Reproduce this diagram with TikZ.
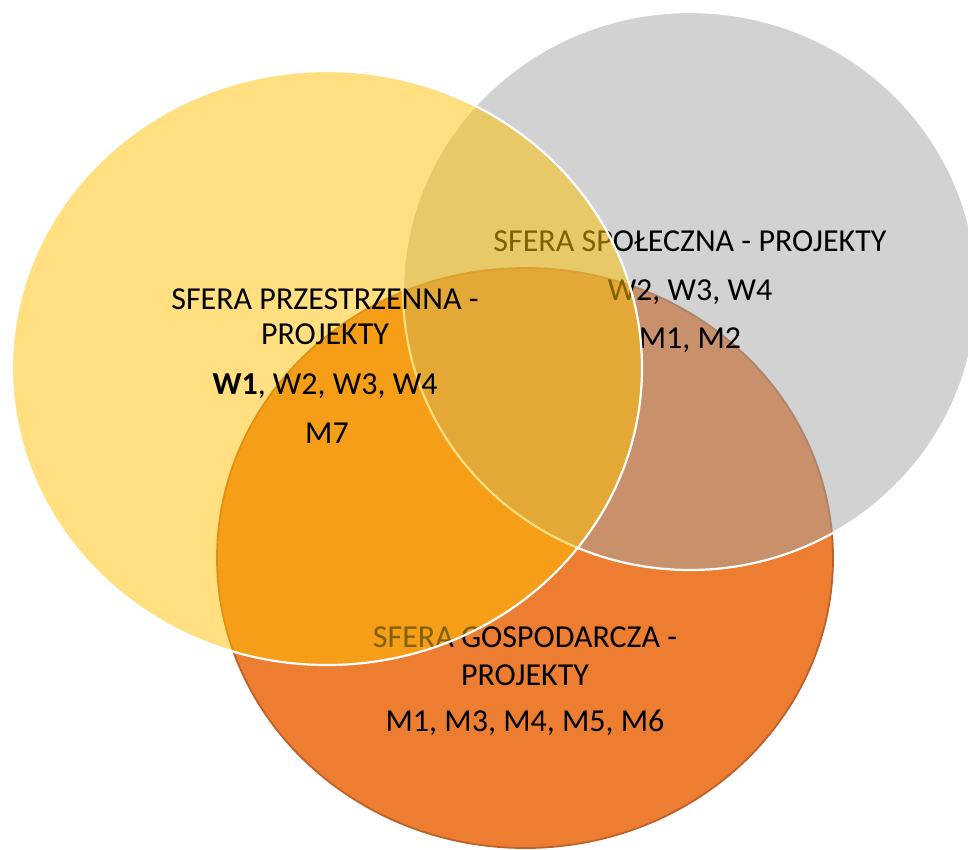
\documentclass[tikz,border=0pt]{standalone}
\usepackage{fontspec}
\setmainfont{Carlito}

\definecolor{orangeF}{HTML}{ED7D31}
\definecolor{orangeB}{HTML}{BE6128}
\definecolor{grayF}{HTML}{A5A5A5}
\definecolor{yellowF}{HTML}{FFC000}

\tikzset{
  sfera/.style={line width=2.2pt},
  opis/.style={anchor=base, text=black, font=\fontsize{32}{38}\selectfont}
}

\begin{document}
\begin{tikzpicture}[x=1pt, y=-1pt]

\useasboundingbox (0,0) rectangle (968,849);

% sfera gospodarcza (spod)
\filldraw[sfera, fill=orangeF, draw=orangeB, line width=1.8pt] (525,558) ellipse [x radius=308pt, y radius=290pt];

% sfera spoleczna
\filldraw[sfera, fill=grayF, fill opacity=0.5, draw=white] (690,291) ellipse [x radius=287pt, y radius=279pt];

\node[opis] (gos1) at (525,647) {SFERA GOSPODARCZA -};
\node[opis] (gos2) at (525,685) {PROJEKTY};
\node[opis] (gos3) at (525,731) {M1, M3, M4, M5, M6};

\node[opis] (spo1) at (690,251) {SFERA SPOŁECZNA - PROJEKTY};
\node[opis] (spo2) at (690,300) {W2, W3, W4};
\node[opis] (spo3) at (690,348) {M1, M2};

% sfera przestrzenna (na wierzchu)
\filldraw[sfera, fill=yellowF, fill opacity=0.5, draw=white] (327,368) ellipse [x radius=315pt, y radius=297pt];

\node[opis] (prz1) at (325,309) {SFERA PRZESTRZENNA -};
\node[opis] (prz2) at (325,344) {PROJEKTY};
\node[opis] (prz3) at (325,394) {\textbf{W1}, W2, W3, W4};
\node[opis] (prz4) at (327,443) {M7};

\end{tikzpicture}
\end{document}
